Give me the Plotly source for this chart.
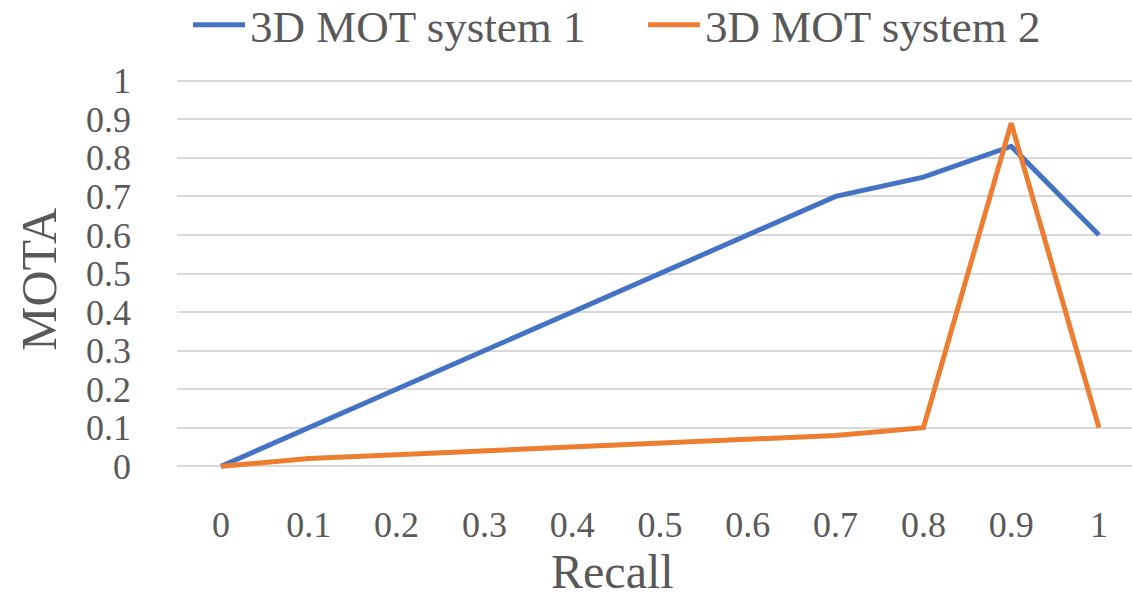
import plotly.graph_objects as go

recall = [0, 0.1, 0.2, 0.3, 0.4, 0.5, 0.6, 0.7, 0.8, 0.9, 1]
recall_labels = ["0", "0.1", "0.2", "0.3", "0.4", "0.5", "0.6", "0.7", "0.8", "0.9", "1"]
system1 = [0, 0.1, 0.2, 0.3, 0.4, 0.5, 0.6, 0.7, 0.75, 0.83, 0.6]
system2 = [0, 0.02, 0.03, 0.04, 0.05, 0.06, 0.07, 0.08, 0.1, 0.89, 0.1]
y_ticks = [0, 0.1, 0.2, 0.3, 0.4, 0.5, 0.6, 0.7, 0.8, 0.9, 1]
y_labels = ["0", "0.1", "0.2", "0.3", "0.4", "0.5", "0.6", "0.7", "0.8", "0.9", "1"]

FONT = "Liberation Serif"
TXT = "#595959"
GRID = "#d9d9d9"

W, H = 1132, 593
ML, MR, MT, MB = 177, 0, 73, 119
PW, PH = W - ML - MR, H - MT - MB


def px_to_paper(px, py):
    return (px - ML) / PW, (H - MB - py) / PH


fig = go.Figure()
fig.add_trace(go.Scatter(x=recall, y=system1, mode="lines", name="3D MOT system 1",
                         line=dict(color="#4472c4", width=5)))
fig.add_trace(go.Scatter(x=recall, y=system2, mode="lines", name="3D MOT system 2",
                         line=dict(color="#ed7d31", width=5)))

rx, ry = px_to_paper(612, 571)
mx, my = px_to_paper(39, 280)
lx, ly = px_to_paper(188, -11)

fig.update_layout(
    width=W, height=H,
    margin=dict(l=ML, r=MR, t=MT, b=MB, autoexpand=False),
    plot_bgcolor="white", paper_bgcolor="white",
    font=dict(family=FONT, color=TXT, size=36),
    showlegend=True,
    legend=dict(orientation="h", x=lx, xanchor="left", y=ly, yanchor="top",
                font=dict(size=45, color=TXT, family=FONT), itemwidth=52,
                entrywidth=388, entrywidthmode="pixels",
                bgcolor="rgba(0,0,0,0)"),
    xaxis=dict(range=[-0.0501, 1.0376], tickvals=recall, ticktext=recall_labels,
               showgrid=False, zeroline=False, showline=False, ticks="",
               ticklabelstandoff=26,
               tickfont=dict(size=36, family=FONT, color=TXT)),
    yaxis=dict(range=[-0.02, 1.02], tickvals=y_ticks, ticktext=y_labels,
               showgrid=True, gridcolor=GRID, gridwidth=2,
               zeroline=True, zerolinecolor=GRID, zerolinewidth=2,
               showline=False, ticks="", ticklabelstandoff=45,
               tickfont=dict(size=36, family=FONT, color=TXT)),
    annotations=[
        dict(text="Recall", x=rx, xref="paper", y=ry, yref="paper", showarrow=False,
             font=dict(size=48, family=FONT, color=TXT), xanchor="center", yanchor="middle"),
        dict(text="MOTA", x=mx, xref="paper", y=my, yref="paper", showarrow=False, textangle=-90,
             font=dict(size=50, family=FONT, color=TXT), xanchor="center", yanchor="middle"),
    ],
)

fig.write_html("out.html")
